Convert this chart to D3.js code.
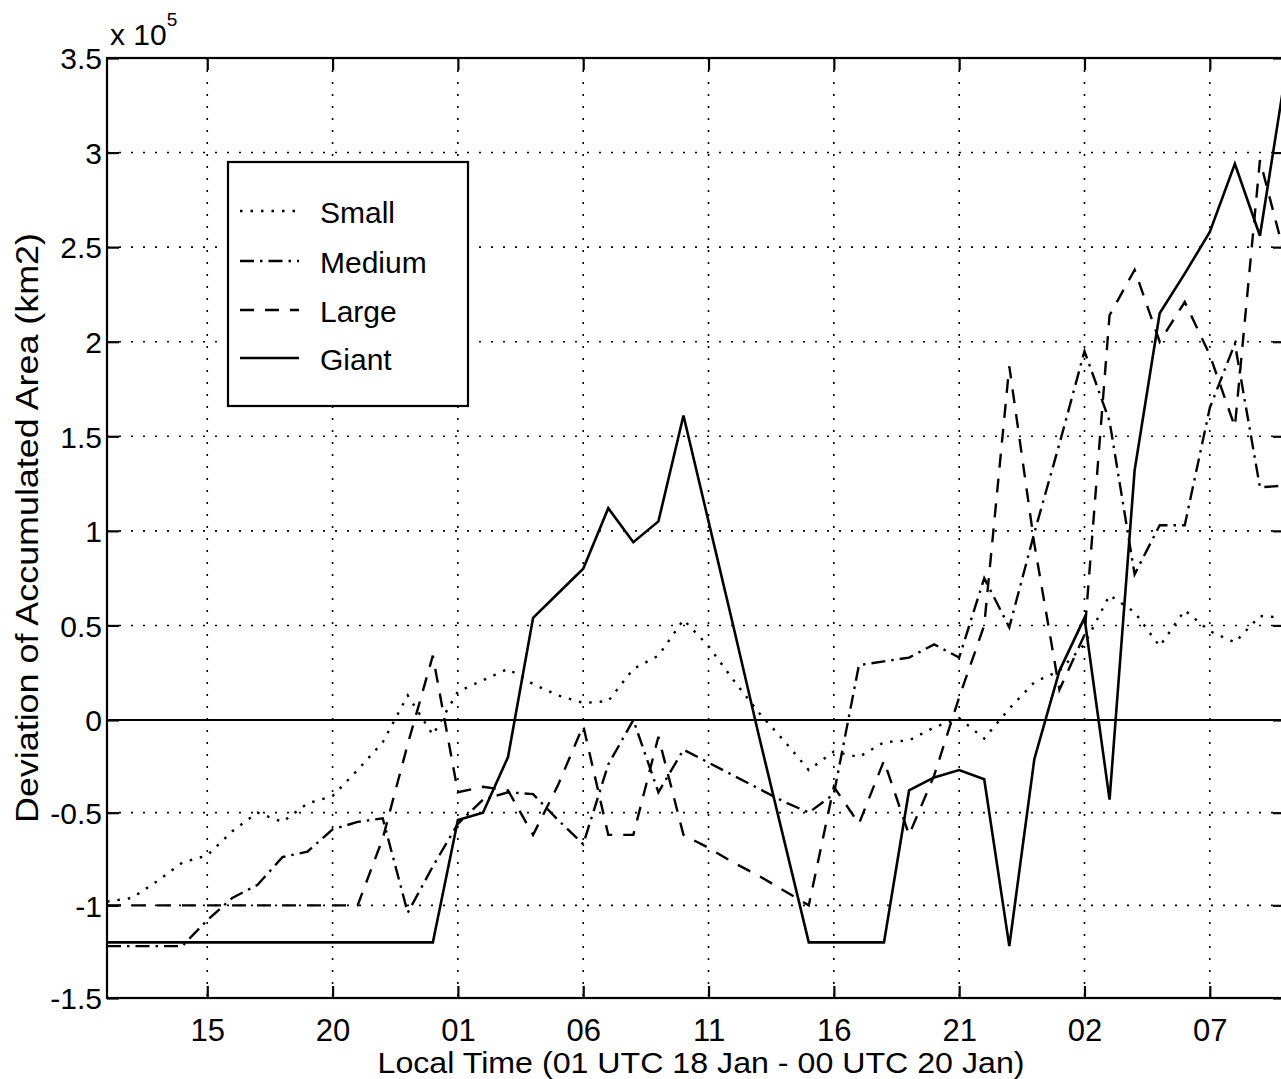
<!DOCTYPE html>
<html><head><meta charset="utf-8">
<script src="https://cdn.jsdelivr.net/npm/d3@7"></script>
<style>
body{margin:0;background:#fff}
text{font-family:"Liberation Sans",Arial,Helvetica,sans-serif;fill:#000}
</style>
</head><body>
<svg id="chart" width="1281" height="1079"></svg>
<script>
// ---- data (local hour, hourly, 01 UTC 18 Jan .. 00 UTC 20 Jan), values in units of 1e5 km2 ----
const hours = [11,12,13,14,15,16,17,18,19,20,21,22,23,24,25,26,27,28,29,30,31,32,33,34,35,36,37,38,39,40,41,42,43,44,45,46,47,48,49,50,51,52,53,54,55,56,57,58];
const xTickValues = [15,20,25,30,35,40,45,50,55];
const xTickLabels = ["15","20","01","06","11","16","21","02","07"];
const yTickValues = [-1.5,-1,-0.5,0,0.5,1,1.5,2,2.5,3,3.5];
const yTickLabels = ["-1.5","-1","-0.5","0","0.5","1","1.5","2","2.5","3","3.5"];
const small  = [-0.98,-0.96,-0.87,-0.77,-0.73,-0.6,-0.5,-0.55,-0.45,-0.41,-0.27,-0.12,0.13,-0.08,0.15,0.21,0.27,0.19,0.13,0.09,0.1,0.27,0.34,0.53,0.39,0.21,0.04,-0.11,-0.27,-0.17,-0.2,-0.12,-0.11,-0.04,0.01,-0.1,0.06,0.2,0.26,0.4,0.66,0.57,0.39,0.58,0.47,0.41,0.55,0.54];
const medium = [-1.22,-1.22,-1.22,-1.22,-1.08,-0.96,-0.89,-0.74,-0.71,-0.59,-0.55,-0.53,-1.04,-0.79,-0.56,-0.43,-0.39,-0.4,-0.54,-0.67,-0.24,0.0,-0.39,-0.16,-0.23,-0.3,-0.37,-0.44,-0.5,-0.4,0.29,0.31,0.33,0.4,0.33,0.75,0.49,0.99,1.46,1.95,1.58,0.77,1.03,1.03,1.65,1.99,1.23,1.24];
const large  = [-1.0,-1.0,-1.0,-1.0,-1.0,-1.0,-1.0,-1.0,-1.0,-1.0,-1.0,-0.64,-0.13,0.34,-0.39,-0.36,-0.38,-0.62,-0.35,-0.03,-0.62,-0.62,-0.09,-0.62,-0.69,-0.77,-0.84,-0.92,-1.0,-0.36,-0.56,-0.22,-0.62,-0.3,0.12,0.5,1.87,0.93,0.16,0.45,2.14,2.38,2.0,2.21,1.93,1.55,2.96,2.45];
const giant  = [-1.2,-1.2,-1.2,-1.2,-1.2,-1.2,-1.2,-1.2,-1.2,-1.2,-1.2,-1.2,-1.2,-1.2,-0.54,-0.5,-0.2,0.54,0.67,0.8,1.12,0.94,1.05,1.61,1.05,0.49,-0.08,-0.64,-1.2,-1.2,-1.2,-1.2,-0.38,-0.31,-0.27,-0.32,-1.22,-0.21,0.26,0.54,-0.43,1.32,2.15,2.36,2.58,2.94,2.56,3.4];
const seriesNames = ["Small","Medium","Large","Giant"];
const seriesDash  = ["2.5,8", "14,6,2.5,6", "14,11", null];

(function(){
const svg = d3.select("#chart");
const pL = 107, pR = 1285, pT = 58, pB = 998;
const x = d3.scaleLinear().domain([11,58]).range([pL,pR]);
const y = d3.scaleLinear().domain([-1.5,0,3.5]).range([pB,720,pT]);

svg.append("rect").attr("width",1281).attr("height",1079).attr("fill","#fff");

svg.append("clipPath").attr("id","plotclip").append("rect")
  .attr("x",pL).attr("y",pT).attr("width",pR-pL).attr("height",pB-pT);

// grid
const grid = svg.append("g").attr("stroke","#000").attr("stroke-width",1.6).attr("stroke-dasharray","2,10");
grid.selectAll(".gx").data(xTickValues).enter().append("line")
  .attr("x1",d=>x(d)).attr("x2",d=>x(d)).attr("y1",pT).attr("y2",pB);
grid.selectAll(".gy").data(yTickValues.filter(v=>v>-1.5 && v<3.5)).enter().append("line")
  .attr("y1",d=>y(d)).attr("y2",d=>y(d)).attr("x1",pL).attr("x2",pR);

// zero line
svg.append("line").attr("x1",pL).attr("x2",pR).attr("y1",y(0)).attr("y2",y(0))
  .attr("stroke","#000").attr("stroke-width",2.2);

// data lines
const seriesVals = [small, medium, large, giant];
const line = d3.line().x(d=>x(d[0])).y(d=>y(d[1]));
const plot = svg.append("g").attr("clip-path","url(#plotclip)");
seriesVals.forEach((vals,i)=>{
  const p = plot.append("path")
    .attr("d", line(hours.map((h,k)=>[h, vals[k]])))
    .attr("fill","none").attr("stroke","#000")
    .attr("stroke-width", i===3 ? 2.6 : 2.4).attr("stroke-linejoin","miter");
  if (seriesDash[i]) p.attr("stroke-dasharray", seriesDash[i]);
});

// axes box
svg.append("rect").attr("x",pL).attr("y",pT).attr("width",pR-pL).attr("height",pB-pT)
  .attr("fill","none").attr("stroke","#000").attr("stroke-width",2.2);

// ticks (inward) using d3 axes
const tl = 12;
const gB = svg.append("g").attr("transform",`translate(0,${pB})`)
  .call(d3.axisBottom(x).tickValues(xTickValues).tickFormat((d,i)=>xTickLabels[i]).tickSizeInner(-tl).tickSizeOuter(0));
const gT = svg.append("g").attr("transform",`translate(0,${pT})`)
  .call(d3.axisTop(x).tickValues(xTickValues).tickFormat("").tickSizeInner(-tl).tickSizeOuter(0));
const gL = svg.append("g").attr("transform",`translate(${pL},0)`)
  .call(d3.axisLeft(y).tickValues(yTickValues).tickFormat((d,i)=>yTickLabels[i]).tickSizeInner(-tl).tickSizeOuter(0).tickPadding(5));
const gR = svg.append("g").attr("transform",`translate(${pR},0)`)
  .call(d3.axisRight(y).tickValues(yTickValues).tickFormat("").tickSizeInner(-tl).tickSizeOuter(0));
[gB,gT,gL,gR].forEach(g=>{
  g.select(".domain").remove();
  g.selectAll(".tick line").attr("stroke","#000").attr("stroke-width",2.2);
  g.selectAll("text").attr("font-size",30).attr("font-family",'"Liberation Sans",Arial,sans-serif').attr("fill","#000");
});
gB.selectAll("text").attr("y",43).attr("dy","0").attr("font-size",31);
gL.selectAll("text").attr("dy","0.36em");

// exponent label
const ex = svg.append("text").attr("x",110).attr("y",45).attr("font-size",30);
ex.append("tspan").text("x 10");
ex.append("tspan").attr("dy",-19).attr("font-size",19).text("5");

// axis titles
svg.append("text").attr("x",701).attr("y",1073).attr("text-anchor","middle").attr("font-size",29)
  .attr("textLength",647).attr("lengthAdjust","spacingAndGlyphs")
  .text("Local Time (01 UTC 18 Jan - 00 UTC 20 Jan)");
svg.append("text").attr("transform","translate(38,528) rotate(-90)").attr("text-anchor","middle").attr("font-size",31)
  .attr("textLength",590).attr("lengthAdjust","spacingAndGlyphs")
  .text("Deviation of Accumulated Area (km2)");

// legend
const lg = svg.append("g");
lg.append("rect").attr("x",228).attr("y",162).attr("width",240).attr("height",244)
  .attr("fill","#fff").attr("stroke","#000").attr("stroke-width",2.2);
const rowsY = [211, 261, 310, 358];
seriesNames.forEach((n,i)=>{
  const l = lg.append("line").attr("x1",240).attr("x2",299).attr("y1",rowsY[i]).attr("y2",rowsY[i])
    .attr("stroke","#000").attr("stroke-width",2.4);
  if (seriesDash[i]) l.attr("stroke-dasharray", seriesDash[i]);
  lg.append("text").attr("x",320).attr("y",rowsY[i]+12).attr("font-size",30).text(n);
});
})();
</script>
</body></html>
